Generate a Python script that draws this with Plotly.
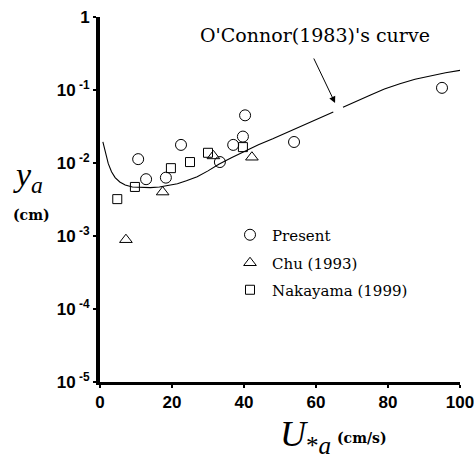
import plotly.graph_objects as go

# ---- data ----
present_x = [10.6, 12.8, 18.3, 22.5, 33.3, 37.0, 39.7, 40.3, 53.9, 95.0]
present_y = [0.0113, 0.0060, 0.0063, 0.0177, 0.0103, 0.0177, 0.0230, 0.045, 0.0194, 0.107]

chu_x = [7.2, 17.4, 31.5, 42.2]
chu_y = [0.00089, 0.0040, 0.0125, 0.0120]

naka_x = [4.8, 9.7, 19.7, 25.0, 30.0, 39.7]
naka_y = [0.0032, 0.0047, 0.0085, 0.0103, 0.0138, 0.0165]

curve_x = [0.8, 1.5, 2.3, 3.2, 4.2, 5.5, 7.0, 9.0, 11.5, 14.0, 16.5, 19.0, 21.5, 24.0, 27.0, 30.0,
           33.0, 36.5, 40.0, 44.0, 48.0, 52.0, 56.0, 60.0, 64.8,
           None, 67.5, 71.0, 75.0, 79.0, 83.3, 87.5, 92.0, 96.0, 100.0]
curve_y = [0.0195, 0.0135, 0.0098, 0.0076, 0.0063, 0.0055, 0.0050, 0.0047, 0.0046, 0.0046, 0.0047,
           0.0049, 0.0052, 0.0057, 0.0065, 0.0078, 0.0096, 0.0118, 0.0143, 0.0178, 0.0215,
           0.0262, 0.0316, 0.0385, 0.050, None, 0.058, 0.070, 0.085, 0.103, 0.122, 0.140, 0.157,
           0.172, 0.186]

x_ticks = [0, 20, 40, 60, 80, 100]
x_ticktext = ["0", "20", "40", "60", "80", "100"]
y_ticks = [1e-5, 1e-4, 1e-3, 1e-2, 1e-1, 1]
y_ticktext = ["10<sup> -5</sup>", "10<sup> -4</sup>", "10<sup> -3</sup>",
              "10<sup> -2</sup>", "10<sup> -1</sup>", "1"]

series_names = ["Present", "Chu (1993)", "Nakayama (1999)"]
curve_label = "O'Connor(1983)'s curve"
arrow_target = (65.3, 0.066)

SERIF = "DejaVu Serif"
fig = go.Figure()

fig.add_trace(go.Scatter(x=curve_x, y=curve_y, mode="lines", line=dict(color="black", width=1.1),
                         showlegend=False, connectgaps=False, hoverinfo="skip"))

fig.add_trace(go.Scatter(x=present_x, y=present_y, mode="markers", name=series_names[0],
                         marker=dict(symbol="circle-open", size=11, color="black", line=dict(width=1)),
                         legend="legend"))
fig.add_trace(go.Scatter(x=chu_x, y=chu_y, mode="markers", name=series_names[1],
                         marker=dict(symbol="triangle-up-open", size=11, color="black", line=dict(width=1)),
                         legend="legend2"))
fig.add_trace(go.Scatter(x=naka_x, y=naka_y, mode="markers", name=series_names[2],
                         marker=dict(symbol="square-open", size=9, color="black", line=dict(width=1)),
                         legend="legend3"))

L, R, T, B = 100, 14, 17, 87
W, H = 474, 469
pw, ph = W - L - R, H - T - B

def px2paper(xp, yp):
    return (xp - L) / pw, (H - B - yp) / ph

leg_font = dict(family=SERIF, size=15, color="black")
legs = {}
for key, ypx in zip(["legend", "legend2", "legend3"], [235, 263, 290]):
    lx, ly = px2paper(228, ypx)
    legs[key] = dict(x=lx, y=ly, xanchor="left", yanchor="middle", font=leg_font,
                     bgcolor="rgba(0,0,0,0)", borderwidth=0, itemwidth=34)

tick_font = dict(family="Liberation Sans", size=17, color="black")

fig.update_layout(
    width=W, height=H,
    margin=dict(l=L, r=R, t=T, b=B, autoexpand=False),
    paper_bgcolor="white", plot_bgcolor="white",
    showlegend=True,
    legend=legs["legend"], legend2=legs["legend2"], legend3=legs["legend3"],
    xaxis=dict(range=[0, 100], tickvals=x_ticks, ticktext=["<b>%s</b>" % t for t in x_ticktext],
               showgrid=False, zeroline=False, ticklabeloverflow="allow", automargin=False,
               showline=True, linecolor="black", linewidth=3, ticks="outside", ticklen=3, tickwidth=2,
               tickcolor="black", tickfont=tick_font),
    yaxis=dict(type="log", range=[-5, 0], tickvals=y_ticks, ticktext=["<b>%s</b>" % t for t in y_ticktext],
               showgrid=False, ticklabeloverflow="allow", automargin=False,
               zeroline=False, showline=True, linecolor="black", linewidth=4, ticks="outside", ticklen=3,
               tickwidth=2, tickcolor="black", tickfont=tick_font),
)

ax_, ay_ = px2paper(314.5, 35)
fig.add_annotation(xref="paper", yref="paper", x=ax_, y=ay_, text=curve_label, showarrow=False,
                   font=dict(family=SERIF, size=19, color="black"), xanchor="center", yanchor="middle")
fig.add_annotation(x=arrow_target[0], y=-1.178, xref="x", yref="y", text="", showarrow=True,
                   arrowhead=2, arrowsize=1.3, arrowwidth=1, arrowcolor="black", ax=-22, ay=-46)

# y-axis title
yx, yy = px2paper(28, 177)
fig.add_annotation(xref="paper", yref="paper", x=yx, y=yy, showarrow=False,
                   text="<i>y</i><sub><i>a</i></sub>",
                   font=dict(family="Liberation Serif", size=34, color="black"), xanchor="center", yanchor="middle")
cx, cy = px2paper(31, 215)
fig.add_annotation(xref="paper", yref="paper", x=cx, y=cy, showarrow=False, text="<b>(cm)</b>",
                   font=dict(family=SERIF, size=14, color="black"), xanchor="center", yanchor="middle")

# x-axis title
ux, uy = px2paper(305, 436)
fig.add_annotation(xref="paper", yref="paper", x=ux, y=uy, showarrow=False,
                   text="<i>U</i><sub>*<i>a</i></sub>",
                   font=dict(family="Liberation Serif", size=36, color="black"), xanchor="center", yanchor="middle")
sx, sy = px2paper(362, 438)
fig.add_annotation(xref="paper", yref="paper", x=sx, y=sy, showarrow=False, text="<b>(cm/s)</b>",
                   font=dict(family=SERIF, size=14, color="black"), xanchor="center", yanchor="middle")

fig.write_html("out.html")
